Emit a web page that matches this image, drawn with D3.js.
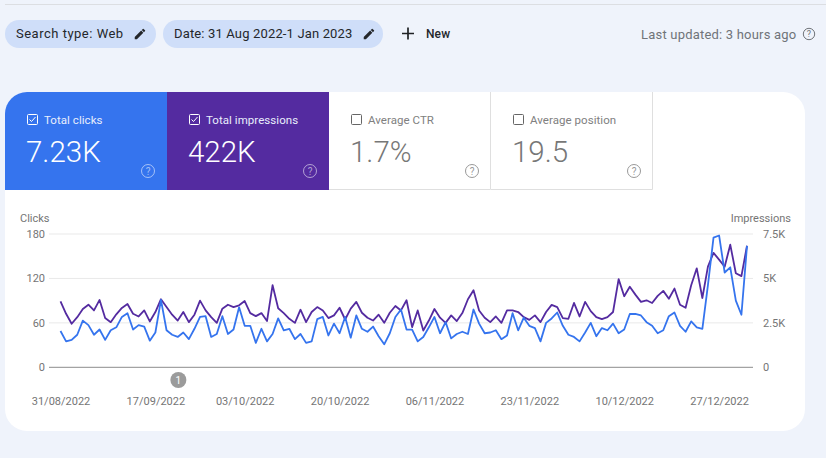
<!DOCTYPE html>
<html>
<head>
<meta charset="utf-8">
<script src="https://cdn.jsdelivr.net/npm/d3@7"></script>
<style>
    html, body { margin: 0; padding: 0; background: #eff3fb; overflow: hidden; }
    svg { display: block; font-family: Roboto, sans-serif; }
</style>
</head>
<body>
<div id="container"></div>
<script>
//Daily values, 31 Aug 2022 to 1 Jan 2023
const clicks = [
    49, 35, 37, 44, 63, 57, 44, 51, 37, 50, 54, 68, 73, 51, 57, 55, 36, 47, 91, 50,
    44, 41, 47, 38, 52, 68, 69, 41, 45, 69, 45, 51, 81, 56, 56, 33, 52, 35, 45, 66,
    50, 52, 38, 45, 33, 35, 65, 68, 43, 59, 46, 68, 40, 70, 52, 48, 55, 42, 31, 46,
    68, 78, 51, 51, 35, 41, 54, 68, 46, 61, 39, 45, 48, 45, 78, 59, 46, 47, 50, 38,
    43, 73, 50, 67, 56, 53, 35, 60, 66, 74, 56, 44, 41, 35, 47, 60, 42, 53, 50, 59,
    46, 51, 72, 72, 70, 61, 56, 46, 50, 69, 74, 56, 48, 62, 54, 52, 111, 175, 178, 128,
    135, 90, 71, 164
];
const impressions = [
    3710, 3010, 2450, 2820, 3280, 3520, 3200, 3790, 2770, 2540, 2980, 3340, 3560, 3010, 2860, 3200, 2580, 3110, 3830, 3390,
    2960, 2630, 3110, 2540, 2960, 3750, 3200, 2820, 2500, 3300, 3520, 3390, 3490, 3730, 3050, 2880, 3050, 2600, 4620, 3320,
    3050, 2730, 2500, 3240, 2540, 3110, 3390, 3200, 2770, 2920, 3350, 2690, 3300, 3680, 3070, 2790, 2630, 2960, 2500, 3070,
    3450, 3200, 3770, 2260, 3200, 2070, 2630, 3280, 2790, 2500, 2920, 2600, 3050, 3830, 4340, 3200, 2790, 2540, 2860, 2500,
    3200, 3200, 3110, 2820, 2670, 2920, 2540, 3110, 3510, 3390, 2770, 2730, 3620, 2860, 3680, 3160, 2820, 2710, 2820, 3110,
    4960, 4000, 4530, 4090, 3680, 3770, 3620, 4020, 4300, 3860, 4430, 3520, 3350, 4620, 5570, 3900, 5660, 6440, 6060, 5660,
    6900, 5290, 5130, 6840
];

const clickTicks = [0, 60, 120, 180];
const impressionTicks = [0, 2500, 5000, 7500];
const impressionTickLabels = ['0', '2.5K', '5K', '7.5K'];
const dateTicks = ['2022-08-31', '2022-09-17', '2022-10-03', '2022-10-20', '2022-11-06', '2022-11-23', '2022-12-10', '2022-12-27'];
const annotationDates = ['2022-09-17'];

const chips = [
    { label: 'Search type: Web', x: 5, w: 151, spacing: 0.5, pencil: 23 },
    { label: 'Date: 31 Aug 2022-1 Jan 2023', x: 163, w: 220, spacing: 0.15, pencil: 21 }
];
const cards = [
    { label: 'Total clicks', value: '7.23K', fill: '#3574ee', on: true },
    { label: 'Total impressions', value: '422K', fill: '#542ba0', on: true },
    { label: 'Average CTR', value: '1.7%', fill: '#fff', on: false },
    { label: 'Average position', value: '19.5', fill: '#fff', on: false }
];

const width = 826;
const height = 458;
const parseDate = d3.utcParse('%Y-%m-%d');
const dates = d3.utcDay.range(parseDate('2022-08-31'), parseDate('2023-01-02'));

const svg = d3.select('#container').append('svg')
    .attr('width', width)
    .attr('height', height);

//Material pencil icon
const pencil = 'M3 17.25V21h3.75L17.81 9.94l-3.75-3.75L3 17.25zM20.71 7.04a1 1 0 0 0 0-1.41l-2.34-2.34a1 1 0 0 0-1.41 0l-1.83 1.83 3.75 3.75 1.83-1.83z';

function helpIcon(x, y, r, color, size) {
    svg.append('circle')
        .attr('cx', x).attr('cy', y).attr('r', r)
        .attr('fill', 'none').attr('stroke', color).attr('stroke-width', 1);
    svg.append('text')
        .attr('x', x).attr('y', y + size * 0.36)
        .attr('text-anchor', 'middle')
        .attr('font-size', size)
        .attr('fill', color)
        .text('?');
}

//Top bar
svg.append('line')
    .attr('x1', 5).attr('x2', width).attr('y1', 4.5).attr('y2', 4.5)
    .attr('stroke', '#dcdee2');

//Filter chips
chips.forEach(c => {
    svg.append('rect')
        .attr('x', c.x).attr('y', 20).attr('width', c.w).attr('height', 28)
        .attr('rx', 14)
        .attr('fill', '#cfdef9');
    svg.append('text')
        .attr('x', c.x + 11).attr('y', 38)
        .attr('font-size', 13).attr('letter-spacing', c.spacing)
        .attr('fill', '#24272b')
        .text(c.label);
    svg.append('path')
        .attr('d', pencil)
        .attr('transform', `translate(${c.x + c.w - c.pencil},27) scale(0.58)`)
        .attr('fill', '#24272b');
});

//New button
svg.append('path')
    .attr('d', 'M408 27.5V39.5M402 33.5H414')
    .attr('stroke', '#1f2124').attr('stroke-width', 1.7);
svg.append('text')
    .attr('x', 426).attr('y', 38)
    .attr('font-size', 12).attr('font-weight', 500)
    .attr('letter-spacing', 0.1)
    .attr('fill', '#24272b')
    .text('New');

svg.append('text')
    .attr('x', 641).attr('y', 39)
    .attr('font-size', 13).attr('letter-spacing', 0.2)
    .attr('fill', '#707479')
    .text('Last updated: 3 hours ago');
helpIcon(809, 34, 5.7, '#707479', 9);

//White panel
svg.append('rect')
    .attr('x', 5).attr('y', 92).attr('width', 800).attr('height', 339)
    .attr('rx', 22)
    .attr('fill', '#fff');

//Metric cards
const cardX = d3.scaleBand().domain(cards.map(d => d.label)).range([5, 653]);
const cardClip = svg.append('clipPath').attr('id', 'panel-clip');
cardClip.append('rect')
    .attr('x', 5).attr('y', 92).attr('width', 800).attr('height', 339)
    .attr('rx', 22);

cards.forEach(c => {
    const x = cardX(c.label);
    const w = cardX.bandwidth();
    const textColor = c.on ? '#fff' : '#777';
    svg.append('rect')
        .attr('x', x).attr('y', 92).attr('width', w).attr('height', 98)
        .attr('fill', c.fill)
        .attr('clip-path', 'url(#panel-clip)');
    svg.append('rect')
        .attr('x', x + 22.5).attr('y', 114.5).attr('width', 10).attr('height', 10)
        .attr('rx', 1)
        .attr('fill', 'none').attr('stroke', c.on ? '#fff' : '#666');
    if (c.on) {
        svg.append('path')
            .attr('d', `M${x + 24.5} 119.5l2 2l4 -4.5`)
            .attr('fill', 'none').attr('stroke', '#fff').attr('stroke-width', 1);
    }
    svg.append('text')
        .attr('x', x + 39).attr('y', 124)
        .attr('font-size', 11.5).attr('letter-spacing', 0.05)
        .attr('fill', c.on ? '#e8eefc' : '#808080')
        .text(c.label);
    svg.append('text')
        .attr('x', x + 21).attr('y', 162)
        .attr('font-size', 29.5).attr('font-weight', 300)
        .attr('fill', textColor)
        .text(c.value);
    helpIcon(x + 143, 171, 6.5, c.on ? 'rgba(255,255,255,0.55)' : '#999', 10);
});

//Card borders go on top so the next card does not hide them
cards.filter(c => !c.on).forEach(c => {
    const x = cardX(c.label);
    svg.append('path')
        .attr('d', `M${x} 189.5H${x + cardX.bandwidth() - 0.5}V92`)
        .attr('fill', 'none').attr('stroke', '#dfdfdf');
});

//Scales
const x = d3.scaleUtc()
    .domain(d3.extent(dates))
    .range([60.5, 747]);
const yClicks = d3.scaleLinear().domain([0, 180]).range([367.3, 234]);
const yImpressions = d3.scaleLinear().domain([0, 7500]).range([367.3, 234]);

//Grid lines
svg.append('g')
    .selectAll('line')
    .data(clickTicks)
    .enter().append('line')
    .attr('x1', 49).attr('x2', 753)
    .attr('y1', d => yClicks(d)).attr('y2', d => yClicks(d))
    .attr('stroke', d => d === 0 ? '#8c8c8c' : '#e9e9e9')
    .attr('stroke-width', 1);

//Axes
const axisLeft = svg.append('g')
    .attr('transform', 'translate(49,0)')
    .call(d3.axisLeft(yClicks).tickValues(clickTicks).tickSize(0).tickPadding(4));
const axisRight = svg.append('g')
    .attr('transform', 'translate(753,0)')
    .call(d3.axisRight(yImpressions).tickValues(impressionTicks).tickSize(0).tickPadding(10)
        .tickFormat((d, i) => impressionTickLabels[i]));
const axisBottom = svg.append('g')
    .attr('transform', 'translate(0,393.5)')
    .call(d3.axisBottom(x).tickValues(dateTicks.map(parseDate)).tickSize(0).tickPadding(4)
        .tickFormat(d3.utcFormat('%d/%m/%Y')));

[axisLeft, axisRight, axisBottom].forEach(a => {
    a.select('.domain').remove();
    a.selectAll('text')
        .attr('font-family', 'Roboto, sans-serif')
        .attr('font-size', 11)
        .attr('fill', '#757575');
});

//Axis titles
svg.append('text')
    .attr('x', 20).attr('y', 222)
    .attr('font-size', 11).attr('fill', '#757575')
    .text('Clicks');
svg.append('text')
    .attr('x', 791).attr('y', 222)
    .attr('text-anchor', 'end')
    .attr('font-size', 11).attr('fill', '#757575')
    .text('Impressions');

//Lines, impressions sit under clicks
const impressionLine = d3.line()
    .x((d, i) => x(dates[i]))
    .y(d => yImpressions(d));
const clickLine = d3.line()
    .x((d, i) => x(dates[i]))
    .y(d => yClicks(d));

svg.append('path')
    .datum(impressions)
    .attr('d', impressionLine)
    .attr('fill', 'none')
    .attr('stroke', '#542ba0')
    .attr('stroke-width', 1.8)
    .attr('stroke-linejoin', 'round');
svg.append('path')
    .datum(clicks)
    .attr('d', clickLine)
    .attr('fill', 'none')
    .attr('stroke', '#3574ee')
    .attr('stroke-width', 1.8)
    .attr('stroke-linejoin', 'round');

//Annotation marker
const marker = svg.append('g')
    .selectAll('g')
    .data(annotationDates)
    .enter().append('g')
    .attr('transform', d => `translate(${x(parseDate(d))},380)`);
marker.append('circle')
    .attr('cx', 23).attr('r', 8)
    .attr('fill', '#9b9b9b');
marker.append('text')
    .attr('x', 23).attr('y', 3.5)
    .attr('text-anchor', 'middle')
    .attr('font-size', 10)
    .attr('fill', '#fff')
    .text('1');
</script>
</body>
</html>
